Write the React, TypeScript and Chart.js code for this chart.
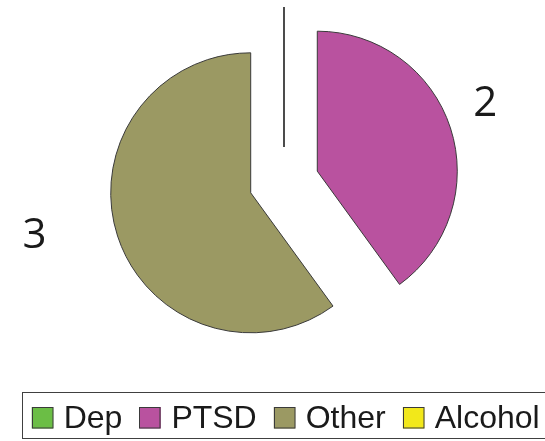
import React, { useEffect, useRef } from "react";
import { Chart, registerables } from "chart.js";

Chart.register(...registerables);

const categories = ["Dep", "PTSD", "Other", "Alcohol"];
const values = [0, 2, 3, 0];
const sliceColors = ["#6BBE45", "#B9529F", "#9B9963", "#F2E81A"];

// style constants
const EXPLODE = 35;
const RADIUS = 140;
const LABEL_RADIUS = [0, 182, 220, 0];
const LABEL_ANGLE_SHIFT_DEG = [0, -4.7, 7.5, 0];
const LABEL_FONT_SIZE = 42;
const LEGEND_FONT_SIZE = 32;

const explodePlugin = {
  id: "explodePie",
  beforeDatasetDraw(chart: any, args: any) {
    const ctx = chart.ctx;
    const meta = args.meta;
    meta.data.forEach((arc: any) => {
      const p = arc.getProps(["x", "y", "startAngle", "endAngle", "outerRadius"], true);
      const mid = (p.startAngle + p.endAngle) / 2;
      ctx.save();
      ctx.translate(Math.cos(mid) * EXPLODE, Math.sin(mid) * EXPLODE);
      if (p.endAngle - p.startAngle === 0) {
        ctx.beginPath();
        ctx.moveTo(p.x, p.y);
        ctx.lineTo(p.x + Math.cos(mid) * p.outerRadius, p.y + Math.sin(mid) * p.outerRadius);
        ctx.strokeStyle = "#333333";
        ctx.lineWidth = 1.3;
        ctx.stroke();
      } else {
        arc.draw(ctx);
      }
      ctx.restore();
    });
    return false;
  },
  afterDatasetsDraw(chart: any) {
    const ctx = chart.ctx;
    const meta = chart.getDatasetMeta(0);
    const data = chart.data.datasets[0].data;
    ctx.save();
    ctx.font = `${LABEL_FONT_SIZE}px 'Open Sans'`;
    ctx.fillStyle = "#1a1a1a";
    ctx.textAlign = "center";
    ctx.textBaseline = "alphabetic";
    meta.data.forEach((arc: any, i: number) => {
      if (!data[i]) return;
      const p = arc.getProps(["x", "y", "startAngle", "endAngle"], true);
      const mid = (p.startAngle + p.endAngle) / 2;
      const cx = p.x + Math.cos(mid) * EXPLODE;
      const cy = p.y + Math.sin(mid) * EXPLODE;
      const a = mid + (LABEL_ANGLE_SHIFT_DEG[i] * Math.PI) / 180;
      const lx = cx + Math.cos(a) * LABEL_RADIUS[i];
      const ly = cy + Math.sin(a) * LABEL_RADIUS[i];
      ctx.fillText(String(data[i]), lx, ly + 0.357 * LABEL_FONT_SIZE);
    });
    ctx.restore();
  },
  afterDraw(chart: any) {
    const ctx = chart.ctx;
    const area = chart.chartArea;
    const labels = chart.data.labels as string[];
    const colors = chart.data.datasets[0].backgroundColor as string[];
    const box = 21.5;
    const gap = 10.5;
    const spacing = 17;
    ctx.save();
    ctx.font = `${LEGEND_FONT_SIZE}px 'Liberation Sans', Arial, sans-serif`;
    const widths = labels.map((l) => ctx.measureText(l).width);
    let total = 0;
    widths.forEach((w, i) => {
      total += box + gap + w + (i < widths.length - 1 ? spacing : 0);
    });
    const centerX = (area.left + area.right) / 2 + 1.7;
    let x = centerX - total / 2;
    const boxTop = area.bottom + 28;
    const boxBottom = area.bottom + 74;
    // legend frame
    ctx.strokeStyle = "#404040";
    ctx.lineWidth = 1;
    ctx.strokeRect(Math.round(x - 10) + 0.5, boxTop + 0.5, total + 26, boxBottom - boxTop);
    const sqTop = area.bottom + 43;
    const baseline = area.bottom + 64;
    ctx.textAlign = "left";
    ctx.textBaseline = "alphabetic";
    labels.forEach((l, i) => {
      ctx.fillStyle = colors[i];
      ctx.fillRect(x, sqTop, box, box);
      ctx.strokeStyle = "#3a3a3a";
      ctx.strokeRect(Math.round(x) + 0.5, sqTop + 0.5, box - 1, box - 1);
      ctx.fillStyle = "#1a1a1a";
      ctx.fillText(l, x + box + gap, baseline);
      x += box + gap + widths[i] + spacing;
    });
    ctx.restore();
  },
};

export default function App() {
  const ref = useRef<HTMLCanvasElement | null>(null);
  useEffect(() => {
    if (!ref.current) return;
    const chart = new Chart(ref.current, {
      type: "pie",
      data: {
        labels: categories,
        datasets: [
          {
            data: values,
            backgroundColor: sliceColors,
            borderColor: "#3a3a3a",
            borderWidth: 1,
            radius: RADIUS,
          },
        ],
      },
      options: {
        animation: false,
        responsive: false,
        maintainAspectRatio: false,
        layout: { padding: { left: 23, right: 0, top: 0, bottom: 77 } },
        plugins: {
          legend: { display: false },
          tooltip: { enabled: false },
        },
        events: [],
      },
      plugins: [explodePlugin],
    });
    return () => chart.destroy();
  }, []);
  return (
    <div style={{ position: "fixed", left: 0, top: 0, width: 545, height: 441, background: "#fff" }}>
      <canvas ref={ref} width={545} height={441} style={{ width: 545, height: 441, display: "block" }} />
    </div>
  );
}
